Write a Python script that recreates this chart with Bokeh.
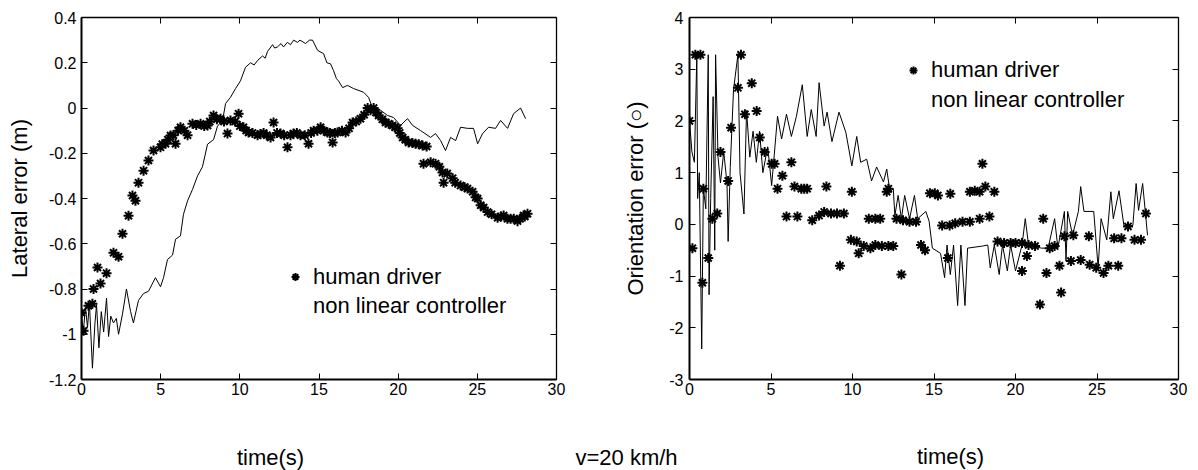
from bokeh.plotting import figure
from bokeh.models import (Range1d, LinearAxis, FixedTicker, CustomJSTickFormatter,
                          Legend, LegendItem)
from bokeh.layouts import row, column
from bokeh.embed import file_html
from bokeh.resources import INLINE
from bokeh.core.properties import value

FONT = "Liberation Sans"

# ---------------- data: lateral error ----------------
lat_human_t = [0, 0.13, 0.44, 0.69, 0.76, 1.01, 1.2, 1.58, 2.02, 2.34, 2.59, 2.97, 3.22, 3.41, 3.6,
               3.92, 4.23, 4.55, 4.99, 5.1, 5.31, 5.45, 5.62, 5.8, 5.94, 6.1, 6.25, 6.5, 6.7, 7.01,
               7.25, 7.52, 7.75, 7.96, 8.1, 8.34, 8.55, 8.78, 9.0, 9.22, 9.41, 9.7, 9.92, 10.0,
               10.23, 10.4, 10.55, 10.8, 11.12, 11.3, 11.5, 11.7, 11.94, 12.13, 12.35, 12.57, 12.8,
               13.01, 13.2, 13.39, 13.6, 13.83, 14.1, 14.34, 14.5, 14.66, 14.9, 15.1, 15.3, 15.54,
               15.7, 15.86, 16.0, 16.17, 16.45, 16.68, 16.9, 17.12, 17.35, 17.62, 17.85, 18.07,
               18.25, 18.45, 18.6, 18.76, 19.0, 19.2, 19.4, 19.65, 19.8, 19.96, 20.1, 20.28, 20.45,
               20.66, 20.9, 21.1, 21.3, 21.54, 21.6, 21.8, 22.05, 22.36, 22.6, 22.8, 22.87, 23.1,
               23.44, 23.6, 23.94, 24.2, 24.38, 24.7, 24.89, 25.02, 25.21, 25.4, 25.65, 25.9,
               26.28, 26.5, 26.66, 26.9, 27.1, 27.3, 27.54, 27.7, 27.92, 28.0, 28.17]
lat_human_v = [-0.905, -0.985, -0.874, -0.865, -0.80, -0.705, -0.776, -0.73, -0.64, -0.657,
               -0.556, -0.476, -0.387, -0.41, -0.33, -0.277, -0.232, -0.188, -0.174, -0.16,
               -0.158, -0.14, -0.122, -0.12, -0.158, -0.1, -0.085, -0.1, -0.12, -0.07, -0.075,
               -0.07, -0.08, -0.077, -0.06, -0.033, -0.05, -0.047, -0.06, -0.113, -0.055, -0.06,
               -0.025, -0.08, -0.085, -0.1, -0.108, -0.11, -0.12, -0.115, -0.11, -0.12, -0.13,
               -0.064, -0.11, -0.113, -0.12, -0.174, -0.12, -0.113, -0.11, -0.12, -0.12, -0.158,
               -0.11, -0.10, -0.1, -0.085, -0.1, -0.108, -0.11, -0.152, -0.11, -0.108, -0.1,
               -0.108, -0.09, -0.064, -0.06, -0.047, -0.03, 0.0, -0.01, 0.0, -0.02, -0.033, -0.05,
               -0.064, -0.07, -0.077, -0.085, -0.09, -0.11, -0.13, -0.14, -0.152, -0.155, -0.158,
               -0.16, -0.166, -0.246, -0.17, -0.24, -0.246, -0.26, -0.285, -0.33, -0.29, -0.31,
               -0.33, -0.343, -0.35, -0.356, -0.37, -0.395, -0.40, -0.43, -0.44, -0.46, -0.47,
               -0.485, -0.48, -0.475, -0.49, -0.49, -0.49, -0.50, -0.49, -0.475, -0.48, -0.467]
lat_ctrl_t = [0, 0.1, 0.25, 0.38, 0.5, 0.69, 0.85, 0.95, 1.1, 1.25, 1.4, 1.58, 1.71, 1.85, 2.02,
              2.2, 2.34, 2.59, 2.84, 3.1, 3.28, 3.6, 3.92, 4.23, 4.67, 4.99, 5.18, 5.43, 5.75,
              5.94, 6.25, 6.44, 6.7, 7.01, 7.33, 7.64, 7.96, 8.34, 8.59, 8.91, 9.1, 9.41, 9.73,
              10.04, 10.36, 10.68, 10.9, 11.12, 11.43, 11.6, 11.75, 12.07, 12.2, 12.38, 12.6,
              12.76, 13.0, 13.2, 13.4, 13.64, 13.8, 14.15, 14.4, 14.59, 14.91, 15.29, 15.5, 15.73,
              15.92, 16.1, 16.23, 16.49, 16.8, 17.18, 17.81, 18.13, 18.38, 18.89, 19.33, 19.71,
              20.15, 20.59, 20.91, 21.42, 22.05, 22.36, 22.68, 22.99, 23.31, 23.63, 23.94, 24.38,
              24.76, 25.02, 25.33, 25.71, 26.15, 26.47, 26.91, 27.29, 27.73, 28.05]
lat_ctrl_v = [-0.9, -1.0, -0.88, -0.97, -0.86, -1.15, -0.95, -0.87, -1.06, -0.9, -0.99, -0.84,
              -1.01, -0.92, -0.95, -0.93, -1.0, -0.91, -0.80, -0.90, -0.95, -0.85, -0.82, -0.81,
              -0.75, -0.79, -0.75, -0.67, -0.65, -0.58, -0.565, -0.47, -0.41, -0.36, -0.30,
              -0.26, -0.16, -0.14, -0.08, -0.055, 0.02, 0.047, 0.086, 0.12, 0.18, 0.2, 0.19,
              0.21, 0.23, 0.22, 0.25, 0.28, 0.265, 0.27, 0.285, 0.27, 0.29, 0.28, 0.3, 0.29, 0.3,
              0.285, 0.3, 0.3, 0.255, 0.24, 0.2, 0.195, 0.165, 0.13, 0.12, 0.09, 0.10, 0.086,
              0.07, 0.047, 0.0, -0.01, -0.033, -0.042, -0.077, -0.047, -0.077, -0.1, -0.13,
              -0.113, -0.144, -0.188, -0.13, -0.144, -0.085, -0.09, -0.09, -0.158, -0.113,
              -0.085, -0.09, -0.055, -0.09, -0.025, 0.0, -0.047]

# ---------------- data: orientation error ----------------
ori_human_t = [0, 0.18, 0.36, 0.67, 0.79, 0.85, 1.15, 1.4, 1.7, 1.9, 2.37, 2.55, 2.97, 3.16, 3.4,
               3.82, 4.12, 4.31, 4.61, 5.04, 5.22, 5.4, 5.7, 5.95, 6.25, 6.44, 6.62, 6.86, 7.04,
               7.22, 7.53, 7.95, 8.26, 8.4, 8.68, 9.05, 9.23, 9.47, 9.9, 9.96, 10.26, 10.38,
               10.69, 11.0, 11.1, 11.4, 11.4, 11.7, 11.8, 12.1, 12.2, 12.2, 12.5, 12.7, 13.0,
               13.1, 13.5, 13.9, 14.2, 14.45, 14.75, 15.05, 15.24, 15.5, 15.85, 15.96, 16.0,
               16.3, 16.75, 17.2, 17.2, 17.5, 17.8, 17.8, 17.97, 18.15, 18.4, 18.7, 18.9, 19.3,
               19.7, 20.0, 20.4, 20.4, 20.7, 20.8, 21.2, 21.5, 21.7, 21.9, 22.1, 22.4, 22.7,
               22.8, 23.0, 23.4, 23.55, 24.0, 24.5, 24.55, 24.95, 25.4, 25.7, 26.05, 26.3, 26.5,
               26.9, 27.3, 27.7, 28.0]
ori_human_v = [2.0, -0.46, 3.28, 3.28, -1.13, 0.69, -0.65, 0.11, 0.21, 1.4, 0.84, 1.87, 2.64,
               3.28, 2.13, 2.73, 2.19, 1.68, 1.4, 1.17, 1.17, 0.69, 0.94, 0.15, 1.2, 0.73, 0.15,
               0.69, 0.69, 0.69, 0.08, 0.17, 0.24, 0.73, 0.21, 0.21, -0.80, 0.21, -0.3, 0.63,
               -0.33, -0.56, -0.42, 0.11, -0.46, 0.11, -0.4, 0.11, -0.42, 0.63, 0.69, -0.42,
               -0.42, 0.11, -0.97, 0.08, 0.05, 0.05, -0.4, -0.5, 0.6, 0.6, 0.56, -0.02, -0.65,
               -0.02, 0.59, 0.02, 0.05, 0.05, 0.63, 0.65, 0.11, 0.63, 1.17, 0.73, 0.15, 0.63,
               -0.33, -0.36, -0.36, -0.36, -0.36, -0.9, -0.61, -0.4, -0.42, -1.55, 0.11, -0.94,
               -0.46, -0.42, -0.8, -1.32, -0.23, -0.71, -0.21, -0.69, -0.23, -0.78, -0.84, -0.94,
               -0.8, -0.27, -0.8, -0.27, -0.04, -0.3, -0.3, 0.21]
ori_ctrl_t = [0, 0.15, 0.3, 0.45, 0.5, 0.6, 0.75, 0.85, 1.0, 1.15, 1.2, 1.3, 1.45, 1.55, 1.6,
              1.75, 1.9, 2.1, 2.3, 2.37, 2.5, 2.7, 2.97, 3.1, 3.34, 3.5, 3.7, 3.9, 4.1, 4.3, 4.5,
              4.8, 5.04, 5.4, 5.65, 5.95, 6.25, 6.56, 6.92, 7.22, 7.47, 7.77, 7.95, 8.26, 8.44,
              8.74, 9.17, 9.59, 9.96, 10.26, 10.5, 10.87, 11.17, 11.48, 11.9, 12.1, 12.3, 12.5,
              12.6, 12.8, 13.0, 13.2, 13.5, 13.8, 14.0, 14.5, 14.7, 14.9, 15.4, 15.65, 15.8,
              16.0, 16.2, 16.45, 16.65, 16.9, 17.06, 17.97, 18.3, 18.45, 18.7, 19.0, 19.2, 19.5,
              19.7, 20.0, 20.4, 20.6, 20.8, 21.6, 22.0, 22.4, 22.6, 23.0, 23.1, 23.2, 23.5,
              23.86, 24.0, 24.2, 24.8, 25.07, 25.25, 25.6, 25.85, 26.0, 26.35, 26.65, 27.2,
              27.4, 27.55, 27.8, 28.1]
ori_ctrl_v = [2.0, 1.4, 1.2, 3.28, 0.5, 1.0, -2.41, 0.7, 0.3, 3.28, -1.36, 0.5, 2.47, -0.5,
              3.28, 1.3, 0.8, 1.4, 0.8, -0.33, 1.1, 2.6, 3.28, 1.0, 0.2, 2.2, 1.3, 1.8, 1.2, 1.8,
              1.0, 1.5, 0.75, 2.09, 1.65, 2.13, 1.7, 2.09, 2.7, 1.7, 2.22, 1.7, 2.74, 1.9, 2.17,
              1.6, 2.17, 1.78, 1.13, 1.7, 1.2, 1.26, 0.84, 1.11, 0.82, 1.07, 0.63, 0.69, 0.17,
              0.56, 0.11, 0.56, 0.11, 0.56, 0.11, 0.25, 0.06, -0.46, -0.56, -1.03, -0.4, -0.97,
              -0.4, -1.57, -0.4, -1.57, -0.46, -0.42, -0.4, -0.84, -0.4, -0.97, -0.4, -0.9, -0.4,
              -0.9, -0.4, 0.11, -0.4, -0.46, -0.46, 0.11, -0.46, 0.25, -0.71, 0.25, -0.21, 0.25,
              0.73, 0.25, 0.25, -0.84, 0.11, -0.3, 0.63, 0.11, 0.65, -0.02, -0.02, 0.79, 0.27,
              0.79, -0.21]

# ---------------- ticks and texts ----------------
time_ticks = [0, 5, 10, 15, 20, 25, 30]
lat_ticks = [0.4, 0.2, 0, -0.2, -0.4, -0.6, -0.8, -1, -1.2]
ori_ticks = [4, 3, 2, 1, 0, -1, -2, -3]
lat_ylabel = "Lateral error (m)"
ori_ylabel = "Orientation error (○)"
legend_labels = ["human driver", "non linear controller"]
caption_texts = ["time(s)", "v=20 km/h", "time(s)"]


def styled_axis(labels, ticks, line_width, formatter=None):
    ax = LinearAxis(ticker=FixedTicker(ticks=ticks, minor_ticks=[]))
    ax.major_tick_in = 6
    ax.major_tick_out = 0
    ax.minor_tick_in = 0
    ax.minor_tick_out = 0
    ax.axis_line_color = "black"
    ax.axis_line_width = line_width
    ax.major_tick_line_color = "black"
    ax.major_tick_line_width = 1
    ax.major_label_text_font = FONT
    ax.major_label_text_color = "black"
    ax.axis_label_text_font = FONT
    ax.axis_label_text_font_size = "22px"
    ax.axis_label_text_font_style = "normal"
    ax.axis_label_text_color = "black"
    if labels:
        ax.major_label_text_font_size = "16px"
        if formatter is not None:
            ax.formatter = formatter
    else:
        ax.major_label_text_font_size = "0px"
        ax.major_label_standoff = 0
        ax.formatter = CustomJSTickFormatter(code="return '';")
    return ax


def make_panel(width, height, borders, yrange, yticks, ylabel, human_t, human_v, ctrl_t, ctrl_v,
               label_standoffs, legend_loc, legend_h):
    bl, br, bt, bb = borders
    p = figure(width=width, height=height, x_range=Range1d(0, 30), y_range=Range1d(*yrange),
               x_axis_location=None, y_axis_location=None, title=None,
               toolbar_location=None, output_backend="svg",
               min_border_left=bl, min_border_right=br, min_border_top=bt, min_border_bottom=bb)
    p.outline_line_color = None
    p.background_fill_color = "white"
    p.border_fill_color = "white"
    p.grid.visible = False

    fmt = CustomJSTickFormatter(code="return tick.toString();")
    left = styled_axis(True, yticks, 2, fmt)
    left.axis_label = ylabel
    left.major_label_standoff = label_standoffs[0]
    left.axis_label_standoff = label_standoffs[1]
    bottom = styled_axis(True, time_ticks, 2)
    bottom.major_label_standoff = 3
    right = styled_axis(False, yticks, 1.3)
    top = styled_axis(False, time_ticks, 1.3)
    p.add_layout(left, "left")
    p.add_layout(bottom, "below")
    p.add_layout(right, "right")
    p.add_layout(top, "above")

    r_ctrl = p.line(ctrl_t, ctrl_v, line_color="black", line_width=1)
    r_human = p.scatter(human_t, human_v, marker="asterisk", size=10, line_color="black",
                        line_width=2)
    r_dot = p.scatter([], [], marker="circle", size=3, fill_color="black", line_color="black")

    legend = Legend(items=[LegendItem(label=legend_labels[0], renderers=[r_human]),
                           LegendItem(label=legend_labels[1], renderers=[r_dot])],
                    location=legend_loc, padding=0, margin=0, spacing=2,
                    glyph_width=20, glyph_height=legend_h, label_height=legend_h,
                    label_standoff=8, label_text_font=FONT, label_text_font_size="22px",
                    label_text_color="black", border_line_color=None,
                    background_fill_alpha=0)
    p.add_layout(legend)
    return p


# frame: left plot x 81..556, y 17..379 ; right plot x 684..1178, y 17..382
p1 = make_panel(620, 405, (81, 64, 17, 26), (-1.2, 0.4), lat_ticks, lat_ylabel,
                lat_human_t, lat_human_v, lat_ctrl_t, lat_ctrl_v,
                (5, 14), (204, 60), 27)
p2 = make_panel(578, 405, (64, 20, 17, 23), (-3, 4), ori_ticks, ori_ylabel,
                ori_human_t, ori_human_v, ori_ctrl_t, ori_ctrl_v,
                (6, 18), (214, 265), 28)

cap = figure(width=1198, height=65, x_range=Range1d(0, 1198), y_range=Range1d(0, 65),
             x_axis_location=None, y_axis_location=None, title=None,
             toolbar_location=None, output_backend="svg", min_border=0)
cap.outline_line_color = None
cap.grid.visible = False
cap.text(x=[270, 626, 950], y=[13, 13, 14], text=caption_texts,
         text_font=value(FONT), text_font_size="22px", text_color="black",
         text_align="center", text_baseline="middle")

layout = column(row(p1, p2), cap)
open("out.html", "w").write(file_html(layout, INLINE))
